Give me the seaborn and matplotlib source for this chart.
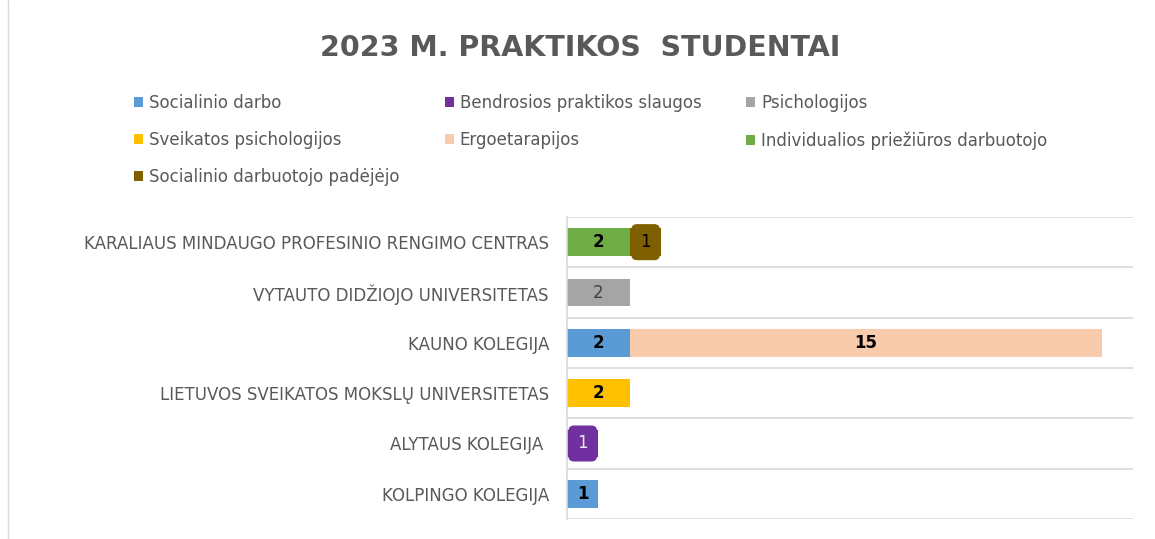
import numpy as np
import pandas as pd
import matplotlib.pyplot as plt
from matplotlib.lines import Line2D
import seaborn as sns

# ===================== 数据 =====================
institucijos = [
    "KARALIAUS MINDAUGO PROFESINIO RENGIMO CENTRAS",
    "VYTAUTO DIDŽIOJO UNIVERSITETAS",
    "KAUNO KOLEGIJA",
    "LIETUVOS SVEIKATOS MOKSLŲ UNIVERSITETAS",
    "ALYTAUS KOLEGIJA ",
    "KOLPINGO KOLEGIJA",
]
serijos = [
    "Socialinio darbo",
    "Bendrosios praktikos slaugos",
    "Psichologijos",
    "Sveikatos psichologijos",
    "Ergoetarapijos",
    "Individualios priežiūros darbuotojo",
    "Socialinio darbuotojo padėjėjo",
]
socialinio_darbo = [0, 0, 2, 0, 0, 1]
bendrosios_slaugos = [0, 0, 0, 0, 1, 0]
psichologijos = [0, 2, 0, 0, 0, 0]
sveikatos_psich = [0, 0, 0, 2, 0, 0]
ergoetarapijos = [0, 0, 15, 0, 0, 0]
individualios = [2, 0, 0, 0, 0, 0]
padejejo = [1, 0, 0, 0, 0, 0]

spalvos = ["#5B9BD5", "#7030A0", "#A5A5A5", "#FFC000", "#F8CBAD", "#70AD47", "#7F6000"]
# 数据标签样式（颜色、粗细、是否圆角框）
lbl_color = ["black", "#E8E8E8", "#404040", "black", "black", "black", "black"]
lbl_weight = ["bold", "normal", "normal", "bold", "bold", "bold", "normal"]
lbl_box = [False, True, False, False, False, False, True]

values = [socialinio_darbo, bendrosios_slaugos, psichologijos, sveikatos_psich,
          ergoetarapijos, individualios, padejejo]
df = pd.DataFrame(dict(zip(serijos, values)), index=institucijos)
cum = df.cumsum(axis=1)

# ===================== 绘图 =====================
sns.set_style("white")
plt.rcParams["font.family"] = ["DejaVu Sans"]
fig = plt.figure(figsize=(11.55, 5.39), dpi=100)
ax = fig.add_axes([567 / 1155, 1 - 519 / 539, 566 / 1155, 302 / 539])

# 反向叠加画出堆叠条
for i in range(len(serijos) - 1, -1, -1):
    s = serijos[i]
    plot_df = pd.DataFrame({"inst": institucijos, "val": cum[s].values})
    sns.barplot(data=plot_df, x="val", y="inst", orient="h", order=institucijos,
                color=spalvos[i], saturation=1, width=0.55, errorbar=None,
                label=s, ax=ax, linewidth=0)

# 数据标签
for i, s in enumerate(serijos):
    for j, inst in enumerate(institucijos):
        v = df.loc[inst, s]
        if v <= 0:
            continue
        mid = cum.loc[inst, s] - v / 2
        kw = {}
        if lbl_box[i]:
            kw["bbox"] = dict(boxstyle="round,pad=0.5,rounding_size=0.3",
                              fc=spalvos[i], ec=spalvos[i])
        ax.text(mid, j, f"{v}", ha="center", va="center", fontsize=12,
                color=lbl_color[i], fontweight=lbl_weight[i], **kw)

ax.set_xlim(0, 18)
ax.set_ylim(len(institucijos) - 0.5, -0.5)
ax.set_xlabel("")
ax.set_ylabel("")
ax.set_xticks([])
for k in range(len(institucijos) + 1):
    ax.axhline(k - 0.5, color="#D9D9D9", lw=1.2, zorder=0)
for side in ["top", "right", "bottom"]:
    ax.spines[side].set_visible(False)
ax.spines["left"].set_color("#D9D9D9")
ax.spines["left"].set_linewidth(1.2)
ax.tick_params(axis="y", length=0, pad=13, labelsize=12, labelcolor="#595959")

# 图例（按行排列）
handles, labels = ax.get_legend_handles_labels()
if ax.get_legend() is not None:
    ax.get_legend().remove()
h_map = dict(zip(labels, handles))
order = [0, 3, 6, 1, 4, 2, 5]
leg = fig.legend([h_map[serijos[k]] for k in order], [serijos[k] for k in order],
                 ncol=3, loc="upper left", bbox_to_anchor=(134 / 1155, 1 - 94 / 539),
                 frameon=False, fontsize=12, handlelength=0.55, handleheight=0.55,
                 handletextpad=0.35, labelspacing=1.15, columnspacing=2.7,
                 borderpad=0, borderaxespad=0)
for t in leg.get_texts():
    t.set_color("#595959")

fig.text(0.502, 1 - 48 / 539, "2023 M. PRAKTIKOS  STUDENTAI", ha="center", va="center",
         fontsize=20.5, fontweight="bold", color="#595959")

# 左侧边框线
fig.add_artist(Line2D([8 / 1155, 8 / 1155], [0, 1], transform=fig.transFigure,
                      color="#D9D9D9", lw=1))

fig.savefig("out.png", dpi=100)
